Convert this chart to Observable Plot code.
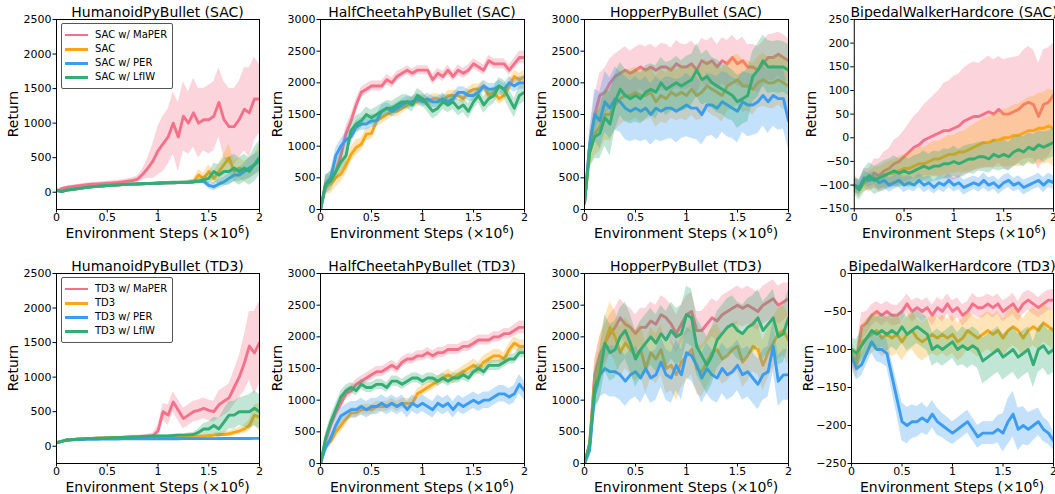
<!DOCTYPE html>
<html>
<head>
<meta charset="utf-8">
<script src="https://cdn.jsdelivr.net/npm/d3@7"></script>
<script src="https://cdn.jsdelivr.net/npm/@observablehq/plot@0.6"></script>
<style>
  html, body { margin: 0; padding: 0; background: #fff; }
  body { position: relative; width: 1055px; height: 494px; overflow: hidden; font-family: "DejaVu Sans", sans-serif; color: #000; }
  .svgbox { position: absolute; }
  .title { position: absolute; font-size: 14px; white-space: nowrap; transform: translate(-50%, -50%); line-height: 1; }
  .xlabel { position: absolute; font-size: 14px; white-space: nowrap; transform: translate(-50%, -50%); line-height: 1; }
  .xlabel sup { font-size: 0.7em; vertical-align: 0.5em; line-height: 0; }
  .ylabel { position: absolute; font-size: 14px; white-space: nowrap; transform: translate(-50%, -50%) rotate(-90deg); line-height: 1; }
  .legend { position: absolute; width: 110px; height: 64px; border: 1px solid #555; border-radius: 2px; background: rgba(255,255,255,0.85); }
  .legend .row { position: absolute; left: 0; height: 12px; font-size: 10px; line-height: 12px; white-space: nowrap; }
  .legend .swatch { position: absolute; left: 3px; top: 5px; width: 23px; height: 2.8px; }
  .legend .lab { position: absolute; left: 33px; top: 0; }
</style>
</head>
<body>
<script>
// Evaluation points, in millions of environment steps
const steps = d3.range(41).map(i => i / 20);

const colors = { maper: "#f5718a", base: "#fda512", per: "#3a9cf2", lfiw: "#33ad73" };

// ---------- HumanoidPyBullet (SAC) ----------
const humSacMaper   = [10,50,70,80,90,100,110,115,120,125,130,135,140,150,160,170,190,260,350,450,600,700,800,1000,800,1100,1000,1150,1000,1050,1050,1100,1300,1050,950,950,1050,1200,1150,1350,1350];
const humSacMaperSd = [20,20,20,20,20,25,25,25,25,25,30,30,30,30,35,40,50,80,150,250,350,400,400,450,500,500,450,500,500,450,500,500,500,550,550,550,550,600,650,600,500];
const humSacBase    = [30,10,30,40,50,60,70,80,85,90,95,100,105,110,115,118,120,123,125,128,130,133,135,138,140,143,145,150,250,200,300,200,300,400,500,300,350,300,350,400,500];
const humSacBaseSd  = [20,15,15,15,15,15,15,15,15,15,15,15,15,15,15,15,15,15,15,15,20,20,20,20,20,25,30,40,80,80,100,100,120,150,200,150,150,150,150,150,200];
const humSacPer     = [30,10,30,40,50,60,70,80,85,90,95,100,105,110,115,118,120,123,125,128,130,133,135,138,140,143,145,150,155,160,100,80,120,150,200,250,250,300,350,400,450];
const humSacPerSd   = [20,15,15,15,15,15,15,15,15,15,15,15,15,15,15,15,15,15,15,15,20,20,20,20,20,20,20,25,30,40,50,60,60,70,80,100,100,120,150,150,150];
const humSacLfiw    = [30,10,30,40,50,60,70,80,85,90,95,100,105,110,115,118,120,123,125,128,130,133,135,138,140,143,145,150,160,180,200,300,250,300,300,350,300,350,300,400,500];
const humSacLfiwSd  = [20,15,15,15,15,15,15,15,15,15,15,15,15,15,15,15,15,15,15,15,20,20,20,20,20,20,25,30,40,50,80,120,150,200,200,200,200,200,200,250,250];

// ---------- HalfCheetahPyBullet (SAC) ----------
const hcSacMaper   = [0,350,450,600,850,1200,1400,1650,1850,1900,1950,1950,1950,2050,2000,2100,2150,2200,2150,2200,2200,2200,2050,2150,2100,2200,2100,2200,2150,2200,2300,2250,2200,2350,2300,2300,2300,2200,2300,2400,2400];
const hcSacMaperSd = [0,100,100,120,120,120,100,100,80,80,80,80,80,80,80,80,70,70,70,70,70,70,80,80,80,80,80,80,80,80,80,80,80,80,80,80,80,80,90,100,100];
const hcSacBase    = [0,400,400,500,560,700,870,980,1030,1190,1200,1400,1450,1500,1550,1550,1600,1650,1700,1700,1750,1700,1750,1750,1700,1800,1800,1800,1750,1850,1900,1900,1950,1800,1850,1750,1800,1950,2100,2050,2100];
const hcSacBaseSd  = [0,150,150,150,130,130,120,120,100,100,100,100,100,90,90,90,80,80,80,80,80,80,80,80,80,80,80,80,80,80,80,80,80,90,90,90,90,100,100,100,100];
const hcSacPer     = [0,400,500,850,1000,1100,1150,1300,1350,1350,1400,1400,1550,1600,1550,1600,1650,1700,1700,1750,1700,1750,1700,1700,1750,1700,1750,1850,1850,1800,1800,1850,1950,1900,1900,1950,1900,2000,1950,2000,2000];
const hcSacPerSd   = [0,120,120,120,110,110,100,100,100,100,100,100,100,90,90,90,90,90,90,90,90,90,90,90,90,90,90,90,90,90,90,90,90,90,90,90,90,100,100,100,100];
const hcSacLfiw    = [0,400,450,600,750,850,1250,1350,1400,1500,1450,1500,1550,1600,1600,1650,1700,1700,1650,1800,1750,1650,1550,1600,1700,1650,1700,1600,1650,1550,1700,1800,1650,1750,1800,1950,1900,1750,1600,1800,1850];
const hcSacLfiwSd  = [0,150,150,150,150,150,130,130,120,120,120,120,120,120,110,110,110,110,110,110,110,110,120,120,120,120,120,120,120,120,120,120,130,130,130,130,140,150,150,150,150];

// ---------- HopperPyBullet (SAC) ----------
const hopSacMaper   = [100,1000,1500,1800,1850,2000,2100,2150,2200,2150,2200,2250,2200,2250,2200,2250,2250,2200,2300,2250,2250,2300,2200,2350,2300,2350,2250,2350,2300,2400,2300,2350,2250,2250,2200,2300,2400,2400,2450,2400,2350];
const hopSacMaperSd = [50,200,300,350,380,380,350,360,370,350,360,350,370,360,350,370,360,350,370,360,350,360,370,350,360,370,350,360,370,350,360,370,350,360,370,350,360,370,350,360,350];
const hopSacBase    = [100,900,1200,1300,1500,1500,1650,1750,1800,1800,1850,1800,1800,1850,1700,1800,1750,1850,1800,1850,1800,1900,1800,1850,1950,1900,1850,1800,1950,2000,2050,1950,1950,1900,2000,2050,2000,2000,2050,2000,1950];
const hopSacBaseSd  = [50,250,350,380,400,420,400,420,400,410,400,420,400,410,400,420,400,410,400,420,400,410,400,420,400,410,400,420,400,410,400,420,400,410,400,420,400,410,400,420,400];
const hopSacPer     = [100,1000,1500,1400,1700,1600,1750,1700,1600,1550,1600,1550,1600,1500,1600,1550,1600,1600,1550,1600,1650,1600,1600,1500,1650,1650,1600,1700,1650,1600,1550,1700,1650,1650,1700,1800,1700,1800,1750,1750,1400];
const hopSacPerSd   = [50,250,400,450,480,480,500,480,500,480,500,480,500,480,500,480,500,480,500,480,500,480,500,480,500,480,500,480,500,480,500,480,500,480,500,480,500,480,500,480,450];
const hopSacLfiw    = [100,900,1150,1200,1450,1350,1700,1900,1800,1750,1800,1750,1850,1900,1850,2000,1900,1950,2000,1950,2000,2050,2200,2050,2100,2000,1950,1900,1850,1800,1700,1750,1800,2100,2200,2350,2250,2250,2250,2250,2200];
const hopSacLfiwSd  = [50,250,350,400,450,500,450,420,420,400,420,400,420,400,420,400,420,400,420,400,420,400,420,400,420,400,420,400,420,400,420,400,420,400,420,400,420,400,420,400,400];

// ---------- BipedalWalkerHardcore (SAC) ----------
const bwSacMaper   = [-100,-105,-85,-90,-75,-80,-70,-65,-55,-50,-40,-30,-20,-15,-5,0,5,10,15,15,20,25,35,40,45,45,50,55,50,60,50,50,55,60,70,75,70,45,70,75,90];
const bwSacMaperSd = [15,15,20,25,30,35,40,42,50,52,55,60,65,70,75,80,85,90,100,105,110,110,112,115,115,112,115,118,115,112,115,118,115,112,115,118,115,112,116,115,110];
const bwSacBase    = [-100,-110,-95,-90,-85,-85,-80,-75,-75,-70,-65,-65,-60,-55,-55,-50,-45,-45,-40,-35,-35,-30,-30,-25,-20,-15,-10,-10,-5,-5,0,0,5,5,10,15,15,20,20,25,20];
const bwSacBaseSd  = [15,15,18,20,22,24,25,26,28,30,30,32,33,34,35,36,37,38,39,40,40,42,44,46,48,50,52,54,56,58,60,62,64,66,68,70,72,74,76,78,80];
const bwSacPer     = [-100,-105,-85,-90,-85,-95,-90,-100,-95,-90,-100,-95,-100,-90,-100,-95,-105,-95,-100,-90,-100,-95,-105,-100,-95,-100,-90,-100,-95,-105,-95,-90,-100,-95,-105,-100,-95,-90,-100,-90,-95];
const bwSacPerSd   = [15,15,15,15,14,15,16,15,14,15,16,15,14,15,16,15,14,15,16,15,14,15,16,15,14,15,16,15,14,15,16,15,14,15,16,15,14,15,16,15,15];
const bwSacLfiw    = [-100,-110,-90,-80,-90,-85,-80,-75,-70,-75,-70,-75,-70,-65,-60,-65,-60,-60,-55,-55,-50,-55,-50,-45,-45,-40,-40,-45,-35,-40,-35,-40,-30,-25,-30,-20,-25,-15,-20,-15,-10];
const bwSacLfiwSd  = [20,22,25,28,30,30,32,30,32,30,32,30,32,30,32,30,32,30,32,30,32,30,32,30,32,30,32,30,32,30,32,30,32,30,32,30,32,30,32,30,30];

// ---------- HumanoidPyBullet (TD3) ----------
const humTd3Maper   = [50,70,90,95,100,105,110,112,115,118,120,123,125,128,130,133,135,140,145,150,220,500,450,640,520,400,450,500,520,550,520,500,600,650,700,850,1000,1200,1450,1350,1500];
const humTd3MaperSd = [10,10,15,15,15,15,15,15,15,15,20,20,20,20,25,25,25,30,30,40,80,120,150,150,150,150,150,150,150,150,150,150,200,200,200,250,300,400,500,600,600];
const humTd3Base    = [50,70,90,95,100,105,110,112,115,118,120,123,125,128,130,133,135,138,140,140,140,140,140,140,140,140,140,140,145,150,150,160,170,170,180,200,220,250,300,450,420];
const humTd3BaseSd  = [10,10,12,12,12,12,12,12,12,12,12,12,12,12,12,12,12,12,12,12,12,12,12,12,12,12,12,12,15,20,25,30,30,35,40,45,50,60,80,150,200];
const humTd3Per     = [50,70,85,90,95,98,100,100,102,103,104,105,105,106,106,107,107,108,108,108,108,108,109,109,109,110,110,110,110,110,110,110,110,111,111,112,112,112,112,113,113];
const humTd3PerSd   = [10,10,12,12,12,12,12,12,12,12,12,12,12,12,12,12,12,12,12,12,15,15,15,15,15,15,15,15,15,15,15,15,15,15,15,15,15,15,15,15,15];
const humTd3Lfiw    = [50,70,90,95,100,105,110,112,115,118,120,123,125,128,130,133,135,140,145,150,150,150,150,155,160,160,165,170,200,250,250,300,250,350,450,450,500,500,500,550,500];
const humTd3LfiwSd  = [10,10,12,12,12,12,12,12,12,12,12,12,12,12,12,12,12,15,15,15,15,15,15,15,20,20,25,30,50,80,100,120,150,180,200,200,200,220,250,250,250];

// ---------- HalfCheetahPyBullet (TD3) ----------
const hcTd3Maper   = [0,350,600,800,950,1100,1150,1250,1300,1350,1400,1450,1450,1500,1550,1500,1600,1650,1650,1700,1700,1750,1700,1750,1750,1800,1800,1800,1850,1850,1900,1950,1950,1950,2000,2000,2050,2050,2100,2150,2150];
const hcTd3MaperSd = [0,80,90,90,90,90,80,80,80,80,80,80,80,80,80,80,80,80,80,80,80,80,80,80,80,80,80,80,80,80,80,80,80,80,80,80,80,80,90,100,100];
const hcTd3Base    = [0,300,350,500,600,700,800,800,850,850,850,900,900,900,950,900,950,950,950,1100,1150,1200,1250,1300,1350,1400,1350,1400,1450,1500,1550,1500,1600,1650,1700,1700,1650,1800,1900,1850,1850];
const hcTd3BaseSd  = [0,80,90,100,100,90,80,80,80,80,80,80,80,80,80,80,80,80,80,80,80,80,80,80,80,90,90,90,90,90,100,100,100,100,100,100,100,100,100,100,100];
const hcTd3Per     = [0,250,400,600,750,800,850,850,900,850,900,900,950,900,950,900,950,850,950,900,950,900,850,950,900,950,850,950,900,950,1000,950,1000,1000,1050,1100,1100,1050,1100,1250,1150];
const hcTd3PerSd   = [0,80,100,120,130,130,130,130,130,130,130,130,130,130,130,130,130,130,130,130,130,130,130,130,130,130,130,130,130,130,130,130,130,130,130,130,130,130,140,150,150];
const hcTd3Lfiw    = [0,400,650,850,1050,1150,1200,1150,1250,1200,1200,1250,1250,1200,1300,1300,1250,1300,1350,1350,1300,1350,1350,1300,1350,1300,1350,1350,1400,1350,1450,1500,1450,1550,1550,1550,1600,1650,1650,1750,1750];
const hcTd3LfiwSd  = [0,80,100,100,100,90,80,80,80,80,80,80,80,80,80,80,80,80,80,80,80,80,80,80,80,80,80,80,80,80,80,80,80,80,80,80,80,80,80,80,80];

// ---------- HopperPyBullet (TD3) ----------
const hopTd3Maper   = [0,300,1400,1700,1900,2050,2150,2300,2200,2150,2050,2150,2150,2250,2200,2350,2300,2200,2050,2200,2350,2400,2100,2100,2200,2300,2250,2350,2400,2450,2500,2450,2500,2450,2400,2500,2550,2600,2500,2550,2600];
const hopTd3MaperSd = [0,100,250,300,300,300,300,300,300,300,300,300,300,300,300,300,300,300,300,300,300,300,300,300,300,300,300,300,300,300,300,300,300,300,300,300,300,300,300,300,250];
const hopTd3Base    = [0,300,1300,1600,1900,2150,2000,1750,1900,1800,1700,1800,1500,1750,1650,1800,1500,1550,1400,1600,1700,1800,1500,1450,1600,1750,1800,1650,1700,1800,1850,1600,1700,1850,1800,1550,1750,1900,2050,2100,1950];
const hopTd3BaseSd  = [0,100,300,400,400,400,400,400,400,400,400,400,400,400,400,400,400,400,400,400,400,400,400,400,400,400,400,400,400,400,400,400,400,400,400,400,400,400,400,400,400];
const hopTd3Per     = [0,200,1100,1400,1500,1450,1450,1400,1300,1400,1450,1350,1500,1350,1400,1600,1400,1350,1550,1400,1750,1700,1550,1350,1500,1400,1350,1500,1400,1450,1550,1400,1450,1350,1250,1400,1450,1850,1300,1400,1400];
const hopTd3PerSd   = [0,100,300,350,400,400,400,400,400,400,400,400,400,400,400,400,400,400,400,400,400,400,400,400,400,400,400,400,400,400,400,400,400,400,400,400,400,400,400,400,400];
const hopTd3Lfiw    = [0,300,1200,1400,1900,1750,1800,2000,2100,1900,1650,1800,1900,2000,1900,2050,1950,2100,2000,2050,2350,2300,1850,1700,1550,1700,1950,2050,2150,2200,2100,2050,2150,2200,2300,2100,2200,2300,2000,2050,2300];
const hopTd3LfiwSd  = [0,100,300,400,450,450,450,450,450,450,450,450,450,450,450,450,450,450,450,450,450,450,450,450,450,450,450,450,450,450,450,450,450,450,450,450,450,450,450,450,450];

// ---------- BipedalWalkerHardcore (TD3) ----------
const bwTd3Maper   = [-110,-115,-70,-65,-55,-50,-55,-50,-55,-55,-50,-40,-50,-45,-50,-45,-55,-45,-50,-40,-50,-45,-55,-50,-40,-45,-45,-40,-45,-40,-50,-45,-40,-50,-40,-35,-40,-45,-40,-35,-35];
const bwTd3MaperSd = [12,15,18,15,14,13,14,13,14,13,14,13,14,13,14,13,14,13,14,13,14,13,14,13,14,13,14,13,14,13,14,13,14,13,14,13,14,13,14,13,14];
const bwTd3Base    = [-105,-120,-90,-85,-80,-75,-85,-80,-85,-80,-90,-80,-75,-85,-90,-85,-80,-85,-80,-85,-80,-90,-85,-75,-80,-85,-80,-75,-80,-75,-85,-75,-70,-75,-85,-75,-70,-75,-65,-70,-75];
const bwTd3BaseSd  = [15,18,22,25,25,25,25,25,25,25,25,25,25,25,25,25,25,25,25,25,25,25,25,25,25,25,25,25,25,25,25,25,25,25,25,25,25,25,25,25,25];
const bwTd3Per     = [-110,-125,-120,-105,-90,-100,-100,-105,-135,-165,-195,-200,-195,-195,-190,-195,-185,-195,-200,-205,-210,-205,-200,-195,-205,-215,-210,-210,-210,-205,-210,-195,-185,-205,-200,-205,-200,-195,-205,-210,-220];
const bwTd3PerSd   = [15,15,15,15,15,16,18,18,20,22,25,24,22,20,20,18,18,18,16,16,15,15,15,15,15,15,15,15,15,18,25,30,30,28,25,22,20,18,16,15,12];
const bwTd3Lfiw    = [-100,-105,-95,-85,-75,-80,-75,-80,-75,-80,-70,-80,-75,-70,-75,-80,-100,-95,-100,-95,-90,-100,-95,-100,-95,-100,-115,-110,-105,-100,-110,-105,-100,-110,-105,-100,-120,-100,-95,-105,-100];
const bwTd3LfiwSd  = [15,18,20,22,22,22,22,22,22,22,22,22,22,22,22,22,22,22,22,22,22,22,25,25,25,25,30,30,30,30,30,30,30,30,30,30,30,30,30,30,30];

// Axis ticks
const xTicks = [0, 0.5, 1, 1.5, 2];
const humanoidTicks = [0, 500, 1000, 1500, 2000, 2500];
const locoTicks = [0, 500, 1000, 1500, 2000, 2500, 3000];
const bwSacTicks = [-150, -100, -50, 0, 50, 100, 150, 200, 250];
const bwTd3Ticks = [-250, -200, -150, -100, -50, 0];

const sacNames = ["SAC w/ MaPER", "SAC", "SAC w/ PER", "SAC w/ LfIW"];
const td3Names = ["TD3 w/ MaPER", "TD3", "TD3 w/ PER", "TD3 w/ LfIW"];
const keys = ["maper", "base", "per", "lfiw"];

const panels = [
  { title: "HumanoidPyBullet (SAC)", row: 0, left: 56, w: 203, yDomain: [-250, 2500], yTicks: humanoidTicks, legend: sacNames,
    series: [[humSacMaper, humSacMaperSd], [humSacBase, humSacBaseSd], [humSacPer, humSacPerSd], [humSacLfiw, humSacLfiwSd]] },
  { title: "HalfCheetahPyBullet (SAC)", row: 0, left: 320, w: 204, yDomain: [0, 3000], yTicks: locoTicks,
    series: [[hcSacMaper, hcSacMaperSd], [hcSacBase, hcSacBaseSd], [hcSacPer, hcSacPerSd], [hcSacLfiw, hcSacLfiwSd]] },
  { title: "HopperPyBullet (SAC)", row: 0, left: 584, w: 204, yDomain: [0, 3000], yTicks: locoTicks,
    series: [[hopSacMaper, hopSacMaperSd], [hopSacBase, hopSacBaseSd], [hopSacPer, hopSacPerSd], [hopSacLfiw, hopSacLfiwSd]] },
  { title: "BipedalWalkerHardcore (SAC)", row: 0, left: 854, w: 200, yDomain: [-150, 250], yTicks: bwSacTicks,
    series: [[bwSacMaper, bwSacMaperSd], [bwSacBase, bwSacBaseSd], [bwSacPer, bwSacPerSd], [bwSacLfiw, bwSacLfiwSd]] },
  { title: "HumanoidPyBullet (TD3)", row: 1, left: 56, w: 203, yDomain: [-250, 2500], yTicks: humanoidTicks, legend: td3Names,
    series: [[humTd3Maper, humTd3MaperSd], [humTd3Base, humTd3BaseSd], [humTd3Per, humTd3PerSd], [humTd3Lfiw, humTd3LfiwSd]] },
  { title: "HalfCheetahPyBullet (TD3)", row: 1, left: 320, w: 204, yDomain: [0, 3000], yTicks: locoTicks,
    series: [[hcTd3Maper, hcTd3MaperSd], [hcTd3Base, hcTd3BaseSd], [hcTd3Per, hcTd3PerSd], [hcTd3Lfiw, hcTd3LfiwSd]] },
  { title: "HopperPyBullet (TD3)", row: 1, left: 584, w: 204, yDomain: [0, 3000], yTicks: locoTicks,
    series: [[hopTd3Maper, hopTd3MaperSd], [hopTd3Base, hopTd3BaseSd], [hopTd3Per, hopTd3PerSd], [hopTd3Lfiw, hopTd3LfiwSd]] },
  { title: "BipedalWalkerHardcore (TD3)", row: 1, left: 851, w: 202, yDomain: [-250, 0], yTicks: bwTd3Ticks,
    series: [[bwTd3Maper, bwTd3MaperSd], [bwTd3Base, bwTd3BaseSd], [bwTd3Per, bwTd3PerSd], [bwTd3Lfiw, bwTd3LfiwSd]] }
];

const rowTops = [19, 273];   // top edge of each row's axes frame
const frameH = 190;
const mL = 62, mR = 2, mT = 6, mB = 22;

const fmtX = d => String(d);
const fmtY = d => (d < 0 ? "\u2212" + (-d) : String(d));

function addDiv(cls, html, left, top) {
  const el = document.createElement("div");
  el.className = cls;
  el.innerHTML = html;
  el.style.left = left + "px";
  el.style.top = top + "px";
  document.body.appendChild(el);
  return el;
}

for (const p of panels) {
  const top = rowTops[p.row];
  const marks = [];
  p.series.forEach(([mean, sd], k) => {
    const rows = steps.map((x, i) => ({ x, y: mean[i], lo: mean[i] - sd[i], hi: mean[i] + sd[i] }));
    const c = colors[keys[k]];
    marks.push(Plot.areaY(rows, { x: "x", y1: "lo", y2: "hi", fill: c, fillOpacity: 0.3, clip: true }));
    marks.push(Plot.lineY(rows, { x: "x", y: "y", stroke: c, strokeWidth: 2.9, strokeLinejoin: "round", clip: true }));
  });
  marks.push(Plot.axisX({ ticks: xTicks, tickFormat: fmtX, tickSize: 3.5, tickPadding: 0.5, label: null }));
  marks.push(Plot.axisY({ ticks: p.yTicks, tickFormat: fmtY, tickSize: 3.5, tickPadding: 1.5, label: null }));
  marks.push(Plot.frame({ stroke: "#000", strokeWidth: 1 }));

  const svg = Plot.plot({
    width: mL + p.w + mR,
    height: mT + frameH + mB,
    marginLeft: mL, marginRight: mR, marginTop: mT, marginBottom: mB,
    x: { domain: [0, 2] },
    y: { domain: p.yDomain },
    style: { fontFamily: "DejaVu Sans", fontSize: "11px", color: "#000", background: "transparent", overflow: "visible" },
    marks
  });
  const box = document.createElement("div");
  box.className = "svgbox";
  box.style.left = (p.left - mL) + "px";
  box.style.top = (top - mT) + "px";
  box.appendChild(svg);
  document.body.appendChild(box);

  const cx = p.left + p.w / 2;
  addDiv("title", p.title, cx, top - 7.5);
  addDiv("xlabel", "Environment Steps (\u00d710<sup>6</sup>)", cx, top + frameH + 23.5);
  addDiv("ylabel", "Return", p.left - 43, top + frameH / 2);

  if (p.legend) {
    const lg = addDiv("legend", "", p.left + 5, top + 4);
    p.legend.forEach((name, k) => {
      const r = document.createElement("div");
      r.className = "row";
      r.style.top = (4.5 + k * 14.3) + "px";
      r.innerHTML = `<span class="swatch" style="background:${colors[keys[k]]}"></span><span class="lab">${name}</span>`;
      lg.appendChild(r);
    });
  }
}
</script>
</body>
</html>
